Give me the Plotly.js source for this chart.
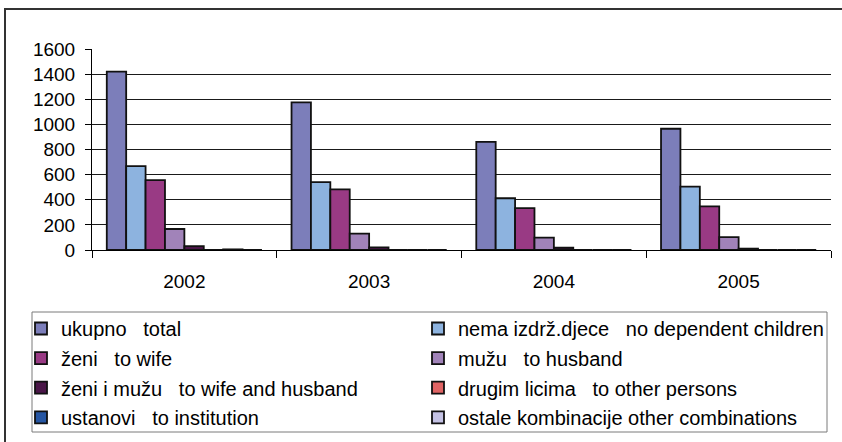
<!DOCTYPE html>
<html>
<head>
<meta charset="utf-8">
<script src="https://cdn.plot.ly/plotly-3.0.1.min.js"></script>
<style>html,body{margin:0;padding:0;background:#fff;}#chart{width:842px;height:442px;}</style>
</head>
<body>
<div id="chart"></div>
<script>
// ---- data ----
var years = ['2002', '2003', '2004', '2005'];
var seriesNames = [
  'ukupno\u00A0\u00A0\u00A0total',
  'nema izdrž.djece\u00A0\u00A0\u00A0no dependent children',
  'ženi\u00A0\u00A0\u00A0to wife',
  'mužu\u00A0\u00A0\u00A0to husband',
  'ženi i mužu\u00A0\u00A0\u00A0to wife and husband',
  'drugim licima\u00A0\u00A0\u00A0to other persons',
  'ustanovi\u00A0\u00A0\u00A0to institution',
  'ostale kombinacije other combinations'
];
var ukupno    = [1420, 1175, 860, 965];
var nema      = [668, 540, 412, 504];
var zeni      = [556, 482, 333, 347];
var muzu      = [167, 130, 98, 103];
var zeniMuzu  = [31, 21, 18, 11];
var drugim    = [0, 0, 0, 0];
var ustanovi  = [5, 0, 0, 0];
var ostale    = [0, 0, 0, 0];
var yTicks    = [0, 200, 400, 600, 800, 1000, 1200, 1400, 1600];

var seriesValues = [ukupno, nema, zeni, muzu, zeniMuzu, drugim, ustanovi, ostale];
var colors = ['#7C7EBA', '#8DB3DF', '#993A84', '#A183B9', '#4A1648', '#E06464', '#2656A3', '#C4C2E4'];

// geometry helpers (px -> paper)
var L = 92, R = 11, T = 49, B = 192, W = 842, H = 442;
var pw = W - L - R, ph = H - T - B;
function px(x) { return (x - L) / pw; }
function py(y) { return (H - B - y) / ph; }

var traces = seriesValues.map(function (vals, i) {
  return {
    type: 'bar',
    name: seriesNames[i],
    x: years,
    y: vals,
    marker: { color: colors[i], line: { color: '#111111', width: 1.8 } },
    legend: (i % 2 === 0) ? 'legend' : 'legend2',
    legendgroup: 'g' + i,
    hoverinfo: 'x+y+name'
  };
});

var legendFont = { family: 'Liberation Sans, Arial, sans-serif', size: 20, color: '#000' };

var layout = {
  width: W, height: H,
  margin: { l: L, r: R, t: T, b: B, pad: 0, autoexpand: false },
  paper_bgcolor: '#ffffff',
  plot_bgcolor: '#ffffff',
  barmode: 'group',
  bargap: 0.16,
  bargroupgap: 0,
  font: { family: 'Liberation Sans, Arial, sans-serif', size: 19, color: '#000' },
  xaxis: {
    type: 'category',
    showgrid: false,
    showline: true, linecolor: '#000', linewidth: 1,
    ticks: 'outside', tickson: 'boundaries', ticklen: 7, tickcolor: '#000', tickwidth: 1,
    tickfont: { size: 19, color: '#000' },
    ticklabelstandoff: 14,
    automargin: false,
    fixedrange: true
  },
  yaxis: {
    range: [0, 1600],
    tickvals: yTicks,
    ticktext: yTicks.map(String),
    showgrid: true, gridcolor: '#1a1a1a', gridwidth: 1,
    showline: true, linecolor: '#000', linewidth: 1,
    zeroline: false,
    ticks: 'outside', ticklen: 6, tickcolor: '#000', tickwidth: 1,
    tickfont: { size: 19, color: '#000' },
    ticklabelstandoff: 6,
    automargin: false,
    fixedrange: true
  },
  showlegend: true,
  legend: {
    orientation: 'v', x: px(21), y: py(309), xanchor: 'left', yanchor: 'top',
    xref: 'paper', yref: 'paper',
    font: legendFont, bgcolor: 'rgba(0,0,0,0)', borderwidth: 0,
    tracegroupgap: 0.6, traceorder: 'grouped', itemclick: false, itemdoubleclick: false
  },
  legend2: {
    orientation: 'v', x: px(418), y: py(309), xanchor: 'left', yanchor: 'top',
    xref: 'paper', yref: 'paper',
    font: legendFont, bgcolor: 'rgba(0,0,0,0)', borderwidth: 0,
    tracegroupgap: 0.6, traceorder: 'grouped', itemclick: false, itemdoubleclick: false
  },
  shapes: [
    // outer chart frame (left and top visible)
    { type: 'rect', xref: 'paper', yref: 'paper', x0: px(5), x1: px(860), y0: py(460), y1: py(9),
      line: { color: '#333333', width: 2 }, fillcolor: 'rgba(0,0,0,0)', layer: 'below' },
    // legend frame
    { type: 'rect', xref: 'paper', yref: 'paper', x0: px(32), x1: px(827), y0: py(432), y1: py(312),
      line: { color: '#7a7a7a', width: 1 }, fillcolor: 'rgba(0,0,0,0)', layer: 'below' }
  ]
};

Plotly.newPlot('chart', traces, layout, { displayModeBar: false, staticPlot: true });
</script>
</body>
</html>
